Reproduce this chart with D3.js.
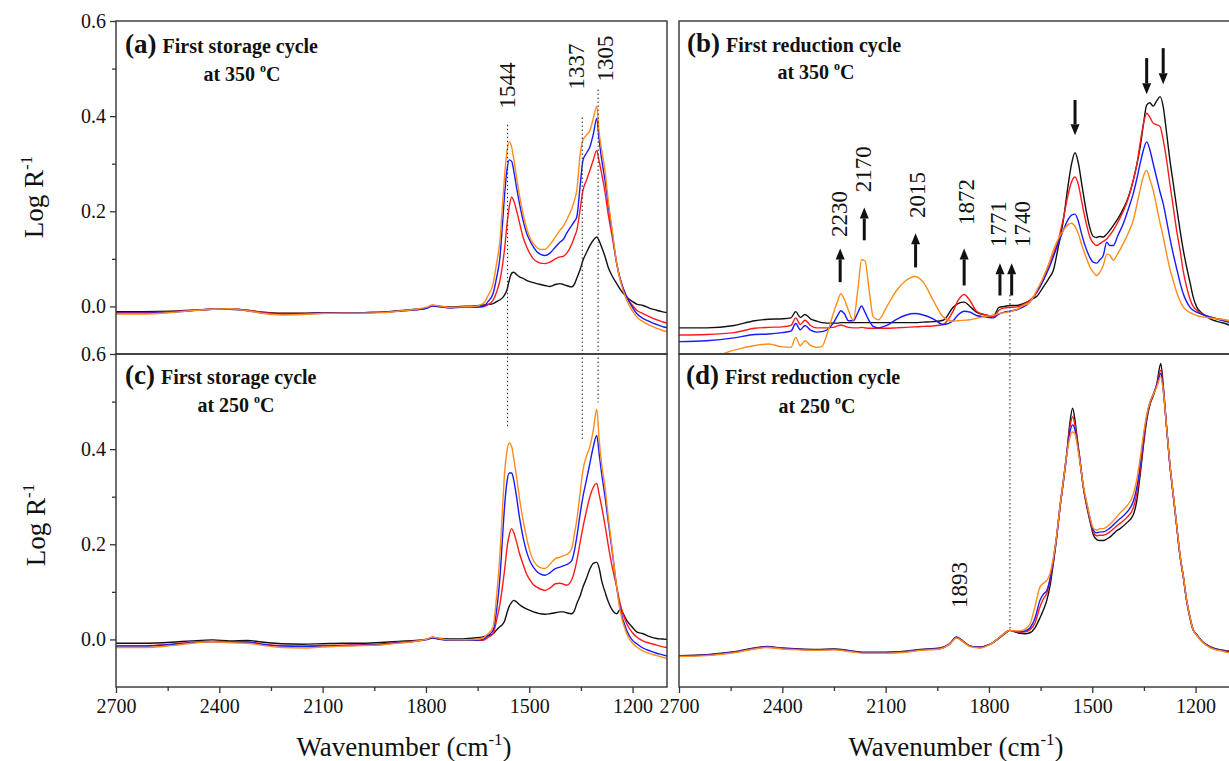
<!DOCTYPE html>
<html>
<head>
<meta charset="utf-8">
<script src="https://cdn.jsdelivr.net/npm/d3@7"></script>
<style>
  body { margin: 0; background: #fff; }
  svg { display: block; }
</style>
</head>
<body>
<div id="chart"></div>
<script>
// wavenumber grid shared by the storage-cycle panels (a) and (c)
const wnAC = [
  2700, 2620, 2540, 2480, 2420, 2370, 2320, 2270, 2220, 2160,
  2100, 2040, 1980, 1920, 1880, 1830, 1800, 1780, 1760, 1730,
  1700, 1660, 1634, 1620, 1605, 1595, 1585, 1578, 1571, 1565,
  1558, 1551, 1545, 1537, 1528, 1518, 1508, 1498, 1488, 1478,
  1468, 1454, 1440, 1424, 1411, 1400, 1392, 1377, 1368, 1362,
  1352, 1344, 1334, 1324, 1314, 1304, 1297, 1290, 1280, 1271,
  1260, 1246, 1236, 1217, 1200, 1188, 1170, 1150, 1130, 1115,
  1100
];

// (a) first storage cycle at 350 C
const aBlack = [
  -0.011, -0.011, -0.010, -0.008, -0.006, -0.005, -0.008, -0.012, -0.014, -0.014,
  -0.013, -0.013, -0.013, -0.012, -0.009, -0.006, -0.004, 0.002, 0.000, -0.001,
  0.000, 0.001, 0.003, 0.004, 0.006, 0.010, 0.014, 0.018, 0.025, 0.034,
  0.055, 0.070, 0.072, 0.067, 0.062, 0.059, 0.055, 0.052, 0.050, 0.048,
  0.046, 0.044, 0.042, 0.046, 0.048, 0.046, 0.044, 0.041, 0.048, 0.059,
  0.078, 0.097, 0.113, 0.128, 0.139, 0.146, 0.138, 0.125, 0.105, 0.083,
  0.065, 0.048, 0.036, 0.020, 0.010, 0.005, 0.002, -0.004, -0.008, -0.011,
  -0.013
];
const aRed = [
  -0.013, -0.013, -0.011, -0.008, -0.006, -0.006, -0.008, -0.013, -0.015, -0.015,
  -0.014, -0.014, -0.013, -0.012, -0.010, -0.007, -0.004, 0.002, 0.000, -0.003,
  -0.002, -0.002, -0.001, 0.004, 0.013, 0.030, 0.055, 0.085, 0.125, 0.170,
  0.210, 0.230, 0.222, 0.202, 0.175, 0.146, 0.126, 0.111, 0.100, 0.094,
  0.091, 0.090, 0.093, 0.100, 0.104, 0.106, 0.111, 0.130, 0.148, 0.160,
  0.205, 0.244, 0.265, 0.286, 0.308, 0.328, 0.305, 0.280, 0.240, 0.195,
  0.150, 0.090, 0.058, 0.020, 0.002, -0.008, -0.015, -0.022, -0.028, -0.032,
  -0.035
];
const aBlue = [
  -0.014, -0.014, -0.012, -0.009, -0.006, -0.006, -0.009, -0.014, -0.016, -0.016,
  -0.014, -0.014, -0.013, -0.012, -0.010, -0.007, -0.004, 0.001, -0.001, -0.003,
  -0.002, -0.002, 0.000, 0.010, 0.027, 0.060, 0.104, 0.170, 0.240, 0.285,
  0.308, 0.305, 0.285, 0.251, 0.215, 0.181, 0.155, 0.138, 0.125, 0.115,
  0.110, 0.107, 0.112, 0.125, 0.135, 0.142, 0.153, 0.170, 0.180, 0.188,
  0.255, 0.307, 0.322, 0.335, 0.362, 0.395, 0.350, 0.310, 0.265, 0.215,
  0.160, 0.090, 0.058, 0.020, -0.002, -0.015, -0.025, -0.032, -0.038, -0.042,
  -0.045
];
const aOrange = [
  -0.016, -0.016, -0.013, -0.009, -0.006, -0.005, -0.009, -0.015, -0.018, -0.017,
  -0.015, -0.014, -0.014, -0.013, -0.010, -0.006, -0.002, 0.003, 0.001, -0.002,
  -0.001, 0.000, 0.006, 0.022, 0.048, 0.090, 0.139, 0.210, 0.280, 0.325,
  0.346, 0.335, 0.310, 0.272, 0.232, 0.195, 0.165, 0.145, 0.132, 0.124,
  0.120, 0.120, 0.130, 0.146, 0.160, 0.170, 0.181, 0.205, 0.225, 0.244,
  0.320, 0.350, 0.360, 0.370, 0.395, 0.421, 0.365, 0.330, 0.285, 0.225,
  0.165, 0.090, 0.055, 0.013, -0.010, -0.022, -0.032, -0.040, -0.046, -0.050,
  -0.053
];

// (c) first storage cycle at 250 C
const cBlack = [
  -0.008, -0.008, -0.006, -0.003, -0.001, -0.003, -0.002, -0.006, -0.009, -0.010,
  -0.009, -0.008, -0.008, -0.006, -0.004, -0.002, 0.000, 0.004, 0.002, 0.001,
  0.001, 0.003, 0.005, 0.008, 0.012, 0.020, 0.027, 0.031, 0.040, 0.055,
  0.070, 0.078, 0.082, 0.079, 0.073, 0.068, 0.064, 0.061, 0.058, 0.056,
  0.054, 0.053, 0.054, 0.056, 0.058, 0.058, 0.056, 0.054, 0.062, 0.075,
  0.092, 0.110, 0.128, 0.148, 0.160, 0.162, 0.150, 0.124, 0.100, 0.080,
  0.063, 0.054, 0.063, 0.040, 0.025, 0.016, 0.012, 0.006, 0.002, 0.001,
  0.000
];
const cRed = [
  -0.013, -0.013, -0.010, -0.006, -0.004, -0.005, -0.005, -0.010, -0.013, -0.014,
  -0.013, -0.012, -0.011, -0.009, -0.006, -0.003, 0.000, 0.004, 0.001, -0.001,
  -0.002, -0.002, -0.002, 0.004, 0.012, 0.040, 0.075, 0.110, 0.150, 0.190,
  0.220, 0.233, 0.225, 0.205, 0.180, 0.158, 0.138, 0.125, 0.115, 0.110,
  0.106, 0.103, 0.108, 0.117, 0.118, 0.116, 0.114, 0.125, 0.145, 0.165,
  0.205, 0.236, 0.270, 0.300, 0.320, 0.328, 0.305, 0.280, 0.240, 0.200,
  0.155, 0.110, 0.075, 0.033, 0.014, 0.005, -0.003, -0.008, -0.012, -0.015,
  -0.017
];
const cBlue = [
  -0.014, -0.014, -0.011, -0.007, -0.005, -0.006, -0.006, -0.011, -0.014, -0.015,
  -0.014, -0.013, -0.012, -0.010, -0.007, -0.004, -0.001, 0.003, 0.000, -0.002,
  -0.002, -0.002, 0.000, 0.008, 0.019, 0.060, 0.131, 0.210, 0.286, 0.330,
  0.350, 0.350, 0.335, 0.300, 0.255, 0.215, 0.185, 0.165, 0.152, 0.143,
  0.138, 0.135, 0.140, 0.149, 0.152, 0.155, 0.157, 0.165, 0.190, 0.215,
  0.265, 0.300, 0.335, 0.370, 0.405, 0.429, 0.390, 0.350, 0.300, 0.250,
  0.190, 0.110, 0.065, 0.019, -0.002, -0.009, -0.018, -0.024, -0.029, -0.032,
  -0.035
];
const cOrange = [
  -0.017, -0.017, -0.013, -0.008, -0.005, -0.007, -0.008, -0.013, -0.017, -0.018,
  -0.016, -0.014, -0.013, -0.011, -0.008, -0.004, 0.000, 0.005, 0.002, -0.001,
  -0.001, 0.000, 0.003, 0.012, 0.026, 0.090, 0.180, 0.270, 0.356, 0.395,
  0.413, 0.405, 0.380, 0.342, 0.295, 0.251, 0.215, 0.185, 0.166, 0.156,
  0.151, 0.149, 0.158, 0.170, 0.173, 0.176, 0.178, 0.190, 0.225, 0.251,
  0.310, 0.356, 0.385, 0.405, 0.440, 0.484, 0.420, 0.370, 0.320, 0.260,
  0.195, 0.110, 0.060, 0.012, -0.008, -0.016, -0.024, -0.030, -0.034, -0.037,
  -0.040
];

// (b) first reduction cycle at 350 C
const wnB = [
  2700, 2620, 2540, 2480, 2440, 2400, 2375, 2361, 2348, 2334,
  2318, 2300, 2285, 2270, 2252, 2240, 2230, 2220, 2208, 2194,
  2180, 2170, 2160, 2148, 2136, 2121, 2097, 2068, 2040, 2015,
  1991, 1962, 1933, 1904, 1890, 1872, 1855, 1836, 1810, 1787,
  1771, 1755, 1740, 1719, 1700, 1681, 1660, 1642, 1625, 1613,
  1600, 1584, 1570, 1560, 1550, 1540, 1530, 1516, 1507, 1497,
  1487, 1478, 1468, 1458, 1449, 1439, 1425, 1410, 1395, 1381,
  1370, 1361, 1351, 1342, 1333, 1323, 1313, 1303, 1294, 1284,
  1275, 1265, 1255, 1245, 1236, 1226, 1216, 1207, 1197, 1180,
  1158, 1140, 1125, 1110, 1100
];
const bBlack = [
  -0.045, -0.045, -0.040, -0.030, -0.027, -0.026, -0.024, -0.011, -0.023, -0.017,
  -0.026, -0.031, -0.034, -0.035, -0.035, -0.035, -0.034, -0.034, -0.034, -0.034,
  -0.034, -0.034, -0.034, -0.034, -0.034, -0.034, -0.034, -0.034, -0.034, -0.034,
  -0.033, -0.032, -0.029, -0.002, 0.006, 0.009, 0.000, -0.012, -0.018, -0.021,
  -0.002, 0.000, 0.002, 0.002, 0.006, 0.013, 0.022, 0.041, 0.060, 0.076,
  0.120, 0.181, 0.255, 0.300, 0.323, 0.300, 0.255, 0.195, 0.165, 0.147,
  0.145, 0.147, 0.146, 0.152, 0.160, 0.170, 0.185, 0.205, 0.230, 0.265,
  0.300, 0.335, 0.385, 0.423, 0.428, 0.421, 0.432, 0.441, 0.420, 0.364,
  0.310, 0.260, 0.209, 0.160, 0.120, 0.083, 0.050, 0.020, -0.001, -0.015,
  -0.026, -0.031, -0.034, -0.037, -0.040
];
const bRed = [
  -0.060, -0.059, -0.055, -0.046, -0.044, -0.043, -0.040, -0.024, -0.038, -0.029,
  -0.040, -0.045, -0.045, -0.045, -0.044, -0.041, -0.039, -0.041, -0.044, -0.045,
  -0.045, -0.044, -0.045, -0.046, -0.046, -0.046, -0.046, -0.045, -0.044, -0.043,
  -0.042, -0.041, -0.038, -0.010, 0.012, 0.025, 0.012, -0.010, -0.018, -0.021,
  -0.008, -0.003, -0.002, -0.001, 0.004, 0.013, 0.030, 0.055, 0.090, 0.110,
  0.135, 0.185, 0.235, 0.262, 0.272, 0.255, 0.218, 0.170, 0.146, 0.133,
  0.128, 0.132, 0.137, 0.142, 0.150, 0.160, 0.178, 0.200, 0.228, 0.265,
  0.300, 0.343, 0.385, 0.406, 0.398, 0.385, 0.382, 0.378, 0.350, 0.307,
  0.260, 0.210, 0.160, 0.118, 0.075, 0.041, 0.015, 0.000, -0.008, -0.016,
  -0.022, -0.025, -0.027, -0.029, -0.031
];
const bBlue = [
  -0.074, -0.072, -0.066, -0.059, -0.058, -0.055, -0.052, -0.036, -0.049, -0.040,
  -0.050, -0.054, -0.053, -0.049, -0.035, -0.020, -0.009, -0.015, -0.030, -0.030,
  -0.012, 0.001, -0.012, -0.030, -0.042, -0.045, -0.040, -0.027, -0.018, -0.015,
  -0.018, -0.026, -0.038, -0.030, -0.018, -0.010, -0.012, -0.019, -0.022, -0.024,
  -0.016, -0.012, -0.010, -0.007, -0.001, 0.009, 0.032, 0.055, 0.082, 0.104,
  0.130, 0.160, 0.183, 0.192, 0.194, 0.178, 0.150, 0.118, 0.103, 0.093,
  0.091, 0.098, 0.107, 0.135, 0.128, 0.128, 0.150, 0.174, 0.205, 0.237,
  0.270, 0.300, 0.330, 0.346, 0.330, 0.300, 0.270, 0.240, 0.216, 0.180,
  0.145, 0.111, 0.080, 0.050, 0.027, 0.010, -0.002, -0.008, -0.012, -0.017,
  -0.022, -0.026, -0.029, -0.032, -0.034
];
const bOrange = [
  -0.118, -0.110, -0.092, -0.082, -0.079, -0.085, -0.086, -0.065, -0.082, -0.072,
  -0.082, -0.086, -0.084, -0.058, -0.015, 0.010, 0.027, 0.015, -0.008, -0.029,
  0.040, 0.098, 0.096, 0.035, -0.022, -0.028, -0.001, 0.034, 0.055, 0.063,
  0.051, 0.013, -0.022, -0.031, -0.030, -0.029, -0.028, -0.025, -0.021, -0.018,
  -0.015, -0.013, -0.011, -0.006, 0.002, 0.009, 0.035, 0.062, 0.092, 0.118,
  0.140, 0.160, 0.172, 0.175, 0.168, 0.152, 0.128, 0.100, 0.083, 0.072,
  0.065, 0.072, 0.086, 0.110, 0.108, 0.097, 0.112, 0.132, 0.155, 0.181,
  0.215, 0.245, 0.275, 0.286, 0.268, 0.244, 0.210, 0.175, 0.146, 0.110,
  0.080, 0.055, 0.030, 0.012, -0.001, -0.008, -0.013, -0.016, -0.019, -0.022,
  -0.024, -0.026, -0.027, -0.029, -0.030
];

// (d) first reduction cycle at 250 C
const wnD = [
  2700, 2620, 2540, 2480, 2445, 2400, 2350, 2300, 2250, 2200,
  2155, 2100, 2058, 2000, 1942, 1915, 1894, 1875, 1855, 1826,
  1807, 1787, 1768, 1749, 1739, 1725, 1710, 1695, 1681, 1666,
  1652, 1642, 1632, 1622, 1613, 1603, 1594, 1584, 1574, 1565,
  1557, 1550, 1545, 1536, 1526, 1516, 1507, 1497, 1487, 1478,
  1468, 1449, 1430, 1419, 1400, 1381, 1371, 1361, 1351, 1342,
  1332, 1323, 1313, 1301, 1294, 1284, 1275, 1265, 1255, 1245,
  1236, 1226, 1216, 1207, 1197, 1180, 1158, 1140, 1125, 1110,
  1100
];
const dBlack = [
  -0.034, -0.032, -0.026, -0.018, -0.015, -0.018, -0.020, -0.021, -0.020, -0.024,
  -0.027, -0.027, -0.026, -0.021, -0.018, -0.010, 0.004, -0.004, -0.014, -0.016,
  -0.013, -0.006, 0.004, 0.015, 0.019, 0.016, 0.013, 0.012, 0.014, 0.025,
  0.045, 0.062, 0.082, 0.115, 0.160, 0.215, 0.275, 0.330, 0.390, 0.455,
  0.486, 0.460, 0.430, 0.380, 0.320, 0.280, 0.250, 0.220, 0.210, 0.208,
  0.208, 0.215, 0.228, 0.233, 0.245, 0.262, 0.290, 0.345, 0.410, 0.460,
  0.495, 0.512, 0.535, 0.580, 0.535, 0.445, 0.370, 0.305, 0.240, 0.175,
  0.135, 0.082, 0.045, 0.020, 0.010, -0.005, -0.015, -0.020, -0.022, -0.024,
  -0.024
];
const dRed = [
  -0.035, -0.033, -0.027, -0.019, -0.016, -0.019, -0.021, -0.022, -0.021, -0.025,
  -0.028, -0.028, -0.027, -0.022, -0.019, -0.010, 0.004, -0.004, -0.014, -0.017,
  -0.013, -0.006, 0.005, 0.016, 0.019, 0.017, 0.015, 0.016, 0.020, 0.035,
  0.068, 0.085, 0.097, 0.125, 0.165, 0.218, 0.277, 0.332, 0.390, 0.445,
  0.468, 0.450, 0.425, 0.378, 0.320, 0.282, 0.253, 0.225, 0.218, 0.219,
  0.219, 0.226, 0.238, 0.244, 0.256, 0.276, 0.305, 0.356, 0.418, 0.465,
  0.497, 0.514, 0.535, 0.566, 0.530, 0.445, 0.370, 0.305, 0.240, 0.175,
  0.133, 0.082, 0.045, 0.020, 0.010, -0.005, -0.016, -0.021, -0.023, -0.025,
  -0.025
];
const dBlue = [
  -0.035, -0.033, -0.027, -0.019, -0.016, -0.019, -0.021, -0.022, -0.021, -0.025,
  -0.028, -0.028, -0.027, -0.022, -0.019, -0.010, 0.005, -0.004, -0.014, -0.017,
  -0.013, -0.006, 0.005, 0.016, 0.019, 0.017, 0.016, 0.018, 0.024, 0.045,
  0.082, 0.095, 0.103, 0.130, 0.168, 0.220, 0.278, 0.333, 0.390, 0.435,
  0.451, 0.440, 0.420, 0.376, 0.322, 0.285, 0.256, 0.230, 0.224, 0.226,
  0.226, 0.234, 0.247, 0.254, 0.267, 0.290, 0.318, 0.365, 0.425, 0.468,
  0.499, 0.515, 0.533, 0.559, 0.525, 0.445, 0.370, 0.305, 0.240, 0.175,
  0.133, 0.082, 0.045, 0.020, 0.010, -0.005, -0.016, -0.021, -0.023, -0.025,
  -0.026
];
const dOrange = [
  -0.036, -0.034, -0.028, -0.020, -0.017, -0.020, -0.022, -0.023, -0.022, -0.026,
  -0.029, -0.029, -0.028, -0.023, -0.020, -0.011, 0.003, -0.005, -0.015, -0.018,
  -0.014, -0.006, 0.005, 0.016, 0.019, 0.018, 0.018, 0.022, 0.032, 0.070,
  0.110, 0.118, 0.124, 0.140, 0.172, 0.220, 0.278, 0.333, 0.388, 0.425,
  0.436, 0.432, 0.415, 0.374, 0.324, 0.288, 0.258, 0.234, 0.230, 0.233,
  0.233, 0.242, 0.257, 0.266, 0.280, 0.305, 0.335, 0.380, 0.432, 0.472,
  0.500, 0.515, 0.530, 0.552, 0.525, 0.445, 0.372, 0.307, 0.242, 0.177,
  0.135, 0.084, 0.046, 0.020, 0.009, -0.006, -0.017, -0.022, -0.024, -0.027,
  -0.028
];

const colors = ["#111111", "#ff1a1a", "#1a1aff", "#ff8c1a"];
const xTicks = [2700, 2400, 2100, 1800, 1500, 1200];
const xMinor = [2550, 2250, 1950, 1650, 1350];
const yTicks = [0.0, 0.2, 0.4, 0.6];
const yMinor = [0.1, 0.3, 0.5];

// peak labels: [text, wavenumber, value at label start]
const labelsA = [["1544", 1564, 0.416], ["1337", 1364, 0.456], ["1305", 1280, 0.473]];
const labelsB = [["2230", 2235, 0.146], ["2170", 2166, 0.240], ["2015", 2009, 0.186],
                 ["1872", 1868, 0.171], ["1771", 1774, 0.125], ["1740", 1704, 0.125]];
const labelsD = [["1893", 1887, 0.066]];
// arrows in (b): [wavenumber, tail value, head value]
const arrowsB = [[2232, 0.051, 0.122], [2162, 0.139, 0.208], [2013, 0.082, 0.154],
                 [1872, 0.044, 0.122], [1768, 0.023, 0.091], [1734, 0.023, 0.091],
                 [1550, 0.434, 0.360], [1342, 0.522, 0.446], [1294, 0.543, 0.467]];

const W = 1229, H = 761;
const serif = "'Liberation Serif', 'Times New Roman', serif";

const svg = d3.select("#chart").append("svg")
  .attr("width", W).attr("height", H)
  .style("font-family", serif);
svg.append("rect").attr("width", W).attr("height", H).attr("fill", "#fff");

const xL = d3.scaleLinear().domain([2700, 1100]).range([116, 667]);
const xR = d3.scaleLinear().domain([2700, 1100]).range([679, 1230]);
const yT = d3.scaleLinear().domain([-0.1, 0.6]).range([354, 21]);
const yB = d3.scaleLinear().domain([-0.1, 0.6]).range([687, 354]);

const panels = [
  { id: "a", x: xL, y: yT, wn: wnAC, series: [aBlack, aRed, aBlue, aOrange] },
  { id: "b", x: xR, y: yT, wn: wnB, series: [bBlack, bRed, bBlue, bOrange] },
  { id: "c", x: xL, y: yB, wn: wnAC, series: [cBlack, cRed, cBlue, cOrange] },
  { id: "d", x: xR, y: yB, wn: wnD, series: [dBlack, dRed, dBlue, dOrange] }
];

const defs = svg.append("defs");

panels.forEach(p => {
  const [x0, x1] = p.x.range();
  const [y1, y0] = p.y.range();
  defs.append("clipPath").attr("id", "clip-" + p.id)
    .append("rect").attr("x", x0).attr("y", y0).attr("width", x1 - x0).attr("height", y1 - y0);

  const line = d3.line()
    .x(d => p.x(d[0]))
    .y(d => p.y(d[1]))
    .curve(d3.curveMonotoneX);

  const g = svg.append("g").attr("clip-path", `url(#clip-${p.id})`);
  p.series.forEach((vals, i) => {
    g.append("path")
      .datum(p.wn.map((w, k) => [w, vals[k]]))
      .attr("d", line)
      .attr("fill", "none")
      .attr("stroke", colors[i])
      .attr("stroke-width", 1.4)
      .attr("stroke-linejoin", "round");
  });
});

// dotted guide lines crossing between the stacked panels
const guides = [
  [xL, 1563, 0.382, 0.445], [xL, 1346, 0.397, 0.416], [xL, 1300, 0.456, 0.498],
  [xR, 1739, 0.024, 0.020]
];
guides.forEach(([x, w, top, bottom]) => {
  svg.append("line")
    .attr("x1", x(w)).attr("x2", x(w))
    .attr("y1", yT(top)).attr("y2", yB(bottom))
    .attr("stroke", "#333").attr("stroke-width", 1.1)
    .attr("stroke-dasharray", "1.5,2.5");
});

// panel frames
panels.forEach(p => {
  const [x0, x1] = p.x.range();
  const [y1, y0] = p.y.range();
  svg.append("rect")
    .attr("x", x0).attr("y", y0).attr("width", x1 - x0).attr("height", y1 - y0)
    .attr("fill", "none").attr("stroke", "#333").attr("stroke-width", 1.4);
});

function styleAxis(g) {
  g.select(".domain").remove();
  g.selectAll(".tick line").attr("stroke", "#333").attr("stroke-width", 1.3);
  g.selectAll(".tick text").attr("fill", "#111").style("font-size", "20px").style("font-family", serif);
}

// y axes on the left column
[yT, yB].forEach(y => {
  svg.append("g").attr("transform", "translate(116,0)")
    .call(d3.axisLeft(y).tickValues(yTicks).tickFormat(d3.format(".1f")).tickSize(6).tickPadding(4))
    .call(styleAxis);
  svg.append("g").attr("transform", "translate(116,0)")
    .call(d3.axisLeft(y).tickValues(yMinor).tickFormat("").tickSize(4))
    .call(styleAxis);
});

// x axes under the bottom row
[xL, xR].forEach(x => {
  svg.append("g").attr("transform", "translate(0,687)")
    .call(d3.axisBottom(x).tickValues(xTicks).tickFormat(d3.format("d")).tickSize(6).tickPadding(6))
    .call(styleAxis);
  svg.append("g").attr("transform", "translate(0,687)")
    .call(d3.axisBottom(x).tickValues(xMinor).tickFormat("").tickSize(4))
    .call(styleAxis);
});

// axis titles
[[43, 197], [45, 525]].forEach(([tx, ty]) => {
  const t = svg.append("text")
    .attr("transform", `translate(${tx},${ty}) rotate(-90)`)
    .attr("text-anchor", "middle")
    .style("font-size", "27px").attr("fill", "#111");
  t.append("tspan").text("Log R");
  t.append("tspan").attr("dy", -11).style("font-size", "17px").text("-1");
});
[404, 956].forEach(cx => {
  const t = svg.append("text")
    .attr("x", cx).attr("y", 756)
    .attr("text-anchor", "middle")
    .style("font-size", "27px").attr("fill", "#111");
  t.append("tspan").text("Wavenumber (cm");
  t.append("tspan").attr("dy", -11).style("font-size", "17px").text("-1");
  t.append("tspan").attr("dy", 11).text(")");
});

// panel captions
const captions = [
  { tag: "(a)", x: 125, y: 53, title: "First storage cycle", temp: "350", tx: 242, ty: 81 },
  { tag: "(b)", x: 687, y: 52, title: "First reduction cycle", temp: "350", tx: 816, ty: 79 },
  { tag: "(c)", x: 125, y: 384, title: "First storage cycle", temp: "250", tx: 236, ty: 412 },
  { tag: "(d)", x: 686, y: 384, title: "First reduction cycle", temp: "250", tx: 817, ty: 413 }
];
captions.forEach(c => {
  const t = svg.append("text").attr("x", c.x).attr("y", c.y)
    .style("font-weight", "bold").attr("fill", "#111");
  t.append("tspan").style("font-size", "27px").text(c.tag);
  t.append("tspan").attr("dx", 6).style("font-size", "20px").text(c.title);
  const t2 = svg.append("text").attr("x", c.tx).attr("y", c.ty)
    .attr("text-anchor", "middle")
    .style("font-weight", "bold").style("font-size", "20px").attr("fill", "#111");
  t2.append("tspan").text(`at ${c.temp} `);
  t2.append("tspan").attr("dy", -9).style("font-size", "12px").text("o");
  t2.append("tspan").attr("dy", 9).text("C");
});

// rotated peak labels
function peakLabels(list, x, y) {
  list.forEach(([txt, w, v]) => {
    svg.append("text")
      .attr("transform", `translate(${x(w)},${y(v)}) rotate(-90)`)
      .attr("dy", "0.35em")
      .style("font-size", "23px").attr("fill", "#111")
      .text(txt);
  });
}
peakLabels(labelsA, xL, yT);
peakLabels(labelsB, xR, yT);
peakLabels(labelsD, xR, yB);

// arrows marking growing and shrinking bands in (b)
arrowsB.forEach(([w, from, to]) => {
  const ax = xR(w), ya = yT(from), yb = yT(to);
  const dir = yb < ya ? -1 : 1;
  const head = 11;
  svg.append("line")
    .attr("x1", ax).attr("x2", ax)
    .attr("y1", ya).attr("y2", yb - dir * head)
    .attr("stroke", "#111").attr("stroke-width", 3);
  svg.append("path")
    .attr("d", `M${ax - 4.5},${yb - dir * head} L${ax + 4.5},${yb - dir * head} L${ax},${yb} Z`)
    .attr("fill", "#111");
});
</script>
</body>
</html>
